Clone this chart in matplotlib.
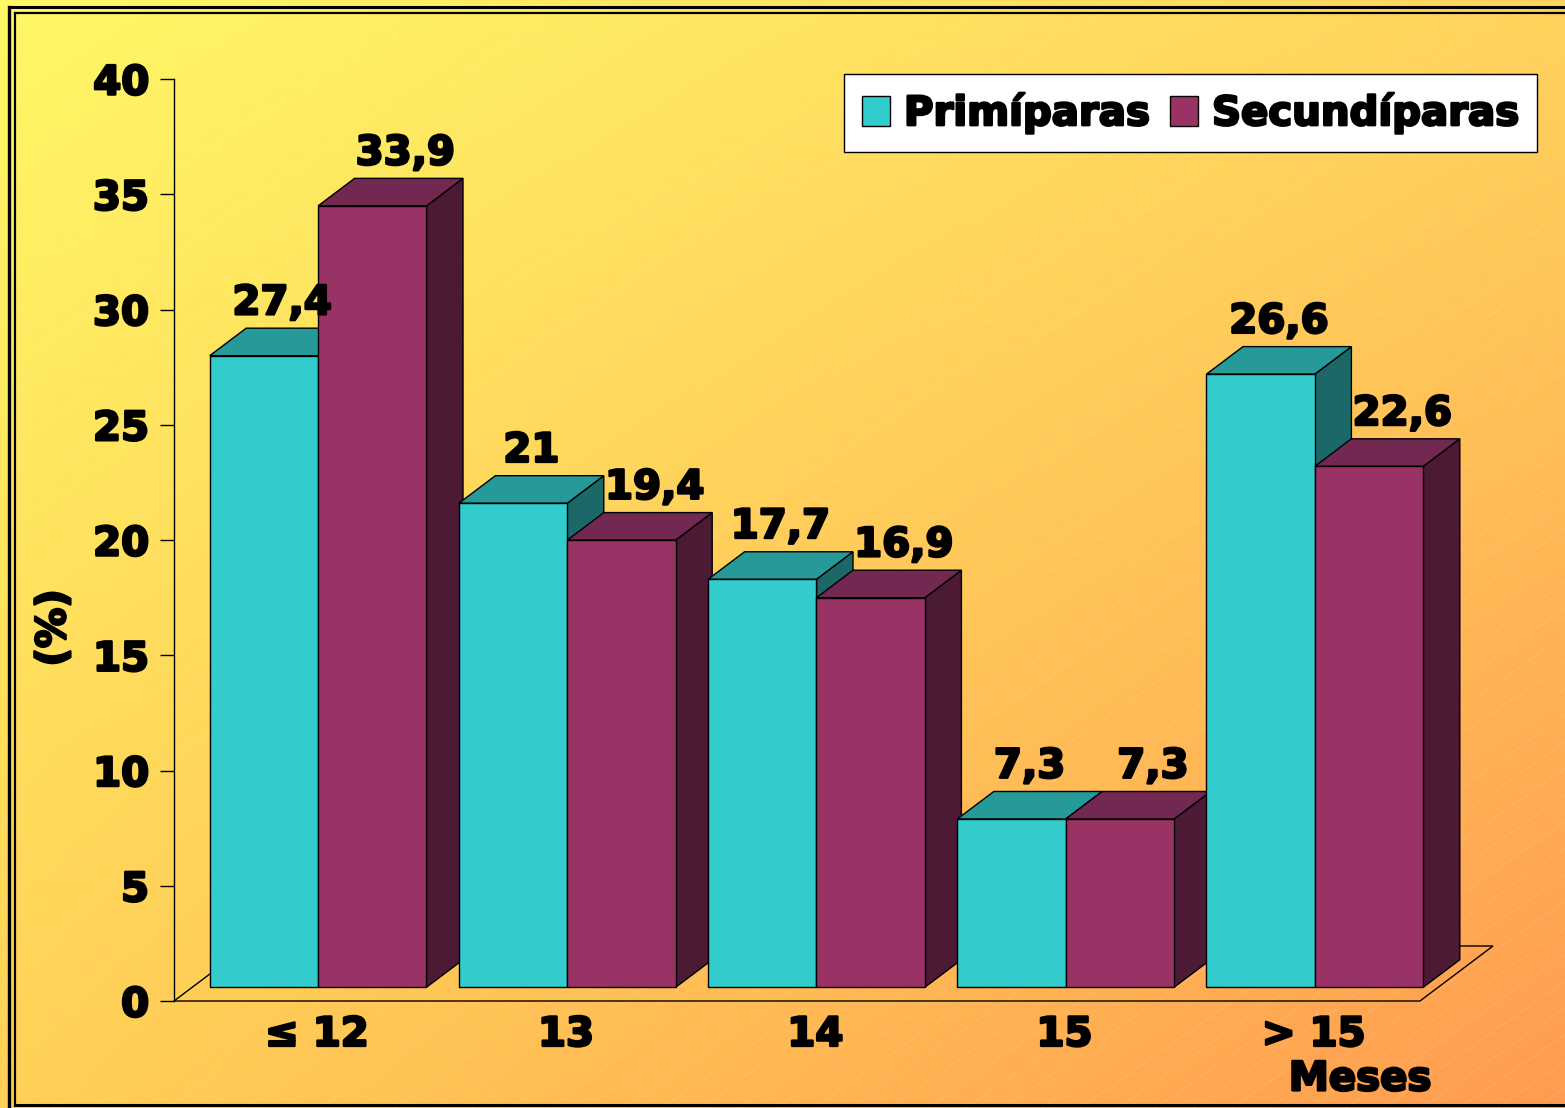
import numpy as np
import matplotlib
matplotlib.use("Agg")
from matplotlib import pyplot as plt
from matplotlib.patches import Polygon, Patch
import matplotlib.patheffects as pe

# data
categories = ["\u2264 12", "13", "14", "15", "> 15"]
primiparas = [27.4, 21.0, 17.7, 7.3, 26.6]
secundiparas = [33.9, 19.4, 16.9, 7.3, 22.6]
prim_labels = ["27,4", "21", "17,7", "7,3", "26,6"]
sec_labels = ["33,9", "19,4", "16,9", "7,3", "22,6"]
yticks = [0, 5, 10, 15, 20, 25, 30, 35, 40]

plt.rcParams["font.family"] = "DejaVu Sans"
plt.rcParams["font.weight"] = "bold"
FS = 29
heavy = [pe.withStroke(linewidth=1.8, foreground="black")]

W, H = 1565, 1108
fig = plt.figure(figsize=(W / 100, H / 100), dpi=100)

# background gradient (yellow top-left -> orange bottom-right)
bg = fig.add_axes([0, 0, 1, 1], zorder=-10)
tl = np.array([255, 248, 102]) / 255
tr = np.array([255, 211, 92]) / 255
bl = np.array([255, 208, 86]) / 255
br = np.array([255, 155, 80]) / 255
u = np.linspace(0, 1, 300)[None, :, None]
v = np.linspace(0, 1, 220)[:, None, None]
grad = (1 - u) * (1 - v) * tl + u * (1 - v) * tr + (1 - u) * v * bl + u * v * br
bg.imshow(grad, extent=(0, W, H, 0), aspect="auto", interpolation="bilinear")
# faint diagonal texture
for c in np.arange(-1200, W + 100, 38):
    bg.plot([c, c + 1600], [H, H - 1600 * 0.7], color="white", lw=0.6, alpha=0.13)
# double frame
bg.plot([9, 9], [7, H], color="black", lw=2.4)
bg.plot([9, W], [7, 7], color="black", lw=2.2)
bg.plot([15, 15], [13, 1105], color="black", lw=1.6)
bg.plot([15, W], [13, 13], color="black", lw=1.6)
bg.plot([15, W], [1105, 1105], color="black", lw=2.2)
bg.set_xlim(0, W)
bg.set_ylim(H, 0)
bg.axis("off")

# main axes: x in category units (1 unit = 249.2 px), y in percent
unit = 249.2
x0, y0, y40 = 174, 1001, 79
axw = 5.5 * unit
ax = fig.add_axes([x0 / W, (H - y0) / H, axw / W, (y0 - y40) / H])
ax.set_xlim(0, 5.5)
ax.set_ylim(0, 40)
ax.patch.set_visible(False)

DX = 73 / unit                 # full floor depth along x
DY = 55 / ((y0 - y40) / 40)    # full floor depth along y
bx, by = 0.25 * DX, 0.25 * DY  # bar front offset
ddx, ddy = 0.5 * DX, 0.5 * DY  # bar depth

# floor
floor = Polygon([(0, 0), (5, 0), (5 + DX, DY), (DX, DY)], closed=True,
                fill=False, edgecolor="black", lw=1.0, zorder=1, clip_on=False)
ax.add_patch(floor)

series = [
    (primiparas, prim_labels, ("#33CCCC", "#269999", "#1C6868"), 0.07, 0.0),
    (secundiparas, sec_labels, ("#993366", "#722850", "#4D1A36"), 0.505, 0.06),
]
bw = 0.435

zo = 2
for i in range(len(categories)):
    for vals, labs, (cf, ct, cs), off, nudge in series:
        val = vals[i]
        xl = i + off + bx
        xr = xl + bw
        yb = by
        yt = by + val
        side = Polygon([(xr, yb), (xr + ddx, yb + ddy), (xr + ddx, yt + ddy), (xr, yt)],
                       closed=True, facecolor=cs, edgecolor="black", lw=1.0, zorder=zo)
        top = Polygon([(xl, yt), (xr, yt), (xr + ddx, yt + ddy), (xl + ddx, yt + ddy)],
                      closed=True, facecolor=ct, edgecolor="black", lw=1.0, zorder=zo)
        front = Polygon([(xl, yb), (xr, yb), (xr, yt), (xl, yt)],
                        closed=True, facecolor=cf, edgecolor="black", lw=1.0, zorder=zo)
        for p in (side, top, front):
            p.set_clip_on(False)
            ax.add_patch(p)
        zo += 1
        ax.text((xl + xr) / 2 + ddx / 2 + nudge, yt + ddy + 0.6, labs[i],
                ha="center", va="baseline", fontsize=FS, fontweight="bold", zorder=50,
                path_effects=heavy)

# axes styling
for s in ("top", "right", "bottom"):
    ax.spines[s].set_visible(False)
ax.spines["left"].set_linewidth(1.0)
ax.set_yticks(yticks)
ax.set_yticklabels([str(t) for t in yticks], fontsize=FS, fontweight="bold")
ax.tick_params(axis="y", length=10, width=1.0, pad=8)
ax.set_xticks([i + 0.5 + bx for i in range(len(categories))])
ax.set_xticklabels(categories, fontsize=FS, fontweight="bold")
ax.tick_params(axis="x", length=0, pad=10)
for t in ax.get_xticklabels() + ax.get_yticklabels():
    t.set_path_effects(heavy)
ax.set_ylabel("(%)", fontsize=FS, fontweight="bold", path_effects=heavy)
ax.yaxis.set_label_coords((74 - x0) / axw, (y0 - 628) / (y0 - y40))
ax.text(4.76, -3.4, "Meses", ha="center", va="center", fontsize=FS, fontweight="bold",
        path_effects=heavy)

handles = [Patch(facecolor="#33CCCC", edgecolor="black", lw=1.0, label="Primíparas"),
           Patch(facecolor="#993366", edgecolor="black", lw=1.0, label="Secundíparas")]
leg = fig.legend(handles=handles, loc="upper right", bbox_to_anchor=(1537 / W, (H - 74) / H),
                 ncol=2, prop={"weight": "bold", "size": FS},
                 handlelength=0.7, handleheight=0.75, handletextpad=0.35,
                 columnspacing=0.5, borderpad=0.45, borderaxespad=0,
                 fancybox=False, framealpha=1, edgecolor="black")
leg.get_frame().set_linewidth(1.0)
for t in leg.get_texts():
    t.set_path_effects(heavy)

fig.savefig("out.png", dpi=100)
